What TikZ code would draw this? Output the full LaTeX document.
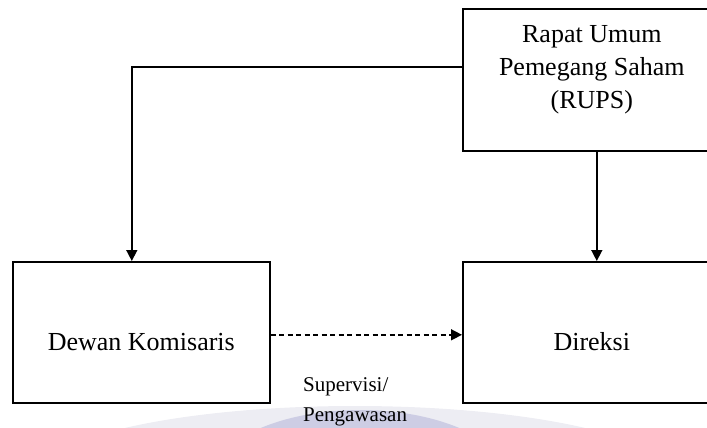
\documentclass[tikz,border=0pt]{standalone}
\usepackage{fontspec}
\setmainfont{Liberation Serif}
\usetikzlibrary{arrows.meta}

\tikzset{
	orgbox/.style={draw, line width=1.6pt, inner sep=0pt, minimum width=258pt,
		font=\fontsize{26}{33}\selectfont},
	orgarrow/.style={line width=1.5pt, -{Triangle[length=11pt,width=11pt]}},
}

\begin{document}
\begin{tikzpicture}[x=1pt,y=-1pt]

	\useasboundingbox (0,0) rectangle (707,428);

	% watermark at the bottom
	\fill[blue!20!gray!12] (355,478) ellipse (320 and 72);
	\fill[blue!30!gray!30] (360,482) ellipse (150 and 72);

	% shareholders meeting
	\node[orgbox, anchor=north west, align=center, text height=100pt, text depth=42pt]
		(rups) at (462,8) {Rapat Umum\\Pemegang Saham\\(RUPS)};

	% the two boards
	\node[orgbox, anchor=north west, minimum width=257pt, text height=89pt, text depth=52pt]
		(dewan) at (12,261) {Dewan Komisaris};
	\node[orgbox, anchor=north west, text height=89pt, text depth=52pt]
		(direksi) at (462,261) {Direksi};

	%arrows
	\draw[orgarrow] ([yshift=13pt]rups.west) -| ([xshift=-9.5pt]dewan.north);
	\draw[orgarrow] ([xshift=5pt]rups.south) -- ([xshift=5pt]direksi.north);
	\draw[orgarrow, dash pattern=on 5pt off 3.5pt] ([yshift=-2.5pt]dewan.east) -- ([yshift=-2.5pt]direksi.west);

	\node[font=\fontsize{21}{30}\selectfont, align=left, anchor=north west, inner sep=0pt]
		(supervisi) at (303,377) {Supervisi/\\Pengawasan};

\end{tikzpicture}
\end{document}
